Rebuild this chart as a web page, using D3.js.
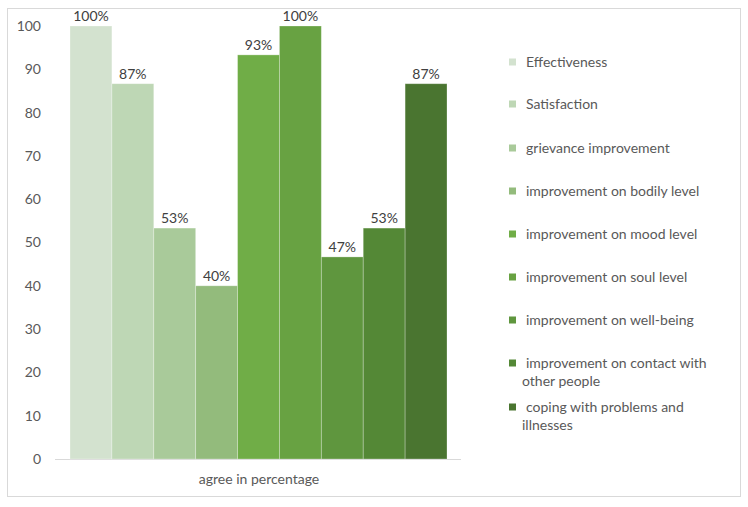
<!DOCTYPE html>
<html><head><meta charset="utf-8">
<script src="https://cdn.jsdelivr.net/npm/d3@7"></script>
<style>body{margin:0;background:#fff}svg{display:block}text{font-family:Lato,"Open Sans",sans-serif}</style>
</head><body><svg id="c" width="748" height="507"></svg>
<script>
const categories = ["Effectiveness","Satisfaction","grievance improvement","improvement on bodily level","improvement on mood level","improvement on soul level","improvement on well-being","improvement on contact with other people","coping with problems and illnesses"];
const values = [100, 86.67, 53.33, 40, 93.33, 100, 46.67, 53.33, 86.67];
const labels = ["100%","87%","53%","40%","93%","100%","47%","53%","87%"];
const colors = ["#d3e2cf","#bed7b5","#a9ca9a","#93bb7c","#70ad47","#68a242","#5f963e","#548836","#4a7530"];
const yTicks = [0,10,20,30,40,50,60,70,80,90,100];
const groupLabel = "agree in percentage";
const legendLines = [["Effectiveness"],["Satisfaction"],["grievance improvement"],["improvement on bodily level"],["improvement on mood level"],["improvement on soul level"],["improvement on well-being"],["improvement on contact with","other people"],["coping with problems and","illnesses"]];

const svg = d3.select("#c");
svg.append("rect").attr("x",7.5).attr("y",8.5).attr("width",733).attr("height",488).attr("fill","#fff").attr("stroke","#d9d9d9");

const y = d3.scaleLinear().domain([0,100]).range([459,26]);
const x = d3.scaleBand().domain(d3.range(categories.length)).range([70,447]).padding(0);

svg.append("line").attr("x1",55).attr("x2",461).attr("y1",459.5).attr("y2",459.5).attr("stroke","#d9d9d9");

const yAxis = d3.axisLeft(y).tickValues(yTicks).tickSize(0).tickPadding(0);
const ga = svg.append("g").attr("transform","translate(41,0)").call(yAxis);
ga.select(".domain").remove();
ga.selectAll("text").attr("font-size",14).attr("fill","#595959").attr("font-family","Lato,'Open Sans',sans-serif");

svg.selectAll("rect.bar").data(values).enter().append("rect").attr("class","bar")
  .attr("x",(d,i)=>x(i)).attr("width",x.bandwidth())
  .attr("y",d=>y(d)).attr("height",d=>y(0)-y(d))
  .attr("fill",(d,i)=>colors[i]).attr("stroke","#fff").attr("stroke-opacity",0.35).attr("stroke-width",0.8);

svg.selectAll("text.lbl").data(values).enter().append("text").attr("class","lbl")
  .attr("x",(d,i)=>x(i)+x.bandwidth()/2).attr("y",d=>y(d)-5)
  .attr("text-anchor","middle").attr("font-size",14).attr("fill","#404040")
  .text((d,i)=>labels[i]);

svg.append("text").attr("x",259).attr("y",484).attr("text-anchor","middle").attr("font-size",14).attr("fill","#595959").text(groupLabel);

const legY = [62,104,148,191,234,277,320,363,407];
const lg = svg.append("g");
legendLines.forEach((lines,i)=>{
  lg.append("rect").attr("x",509).attr("y",legY[i]-3.5).attr("width",7).attr("height",7).attr("fill",colors[i]);
  const t = lg.append("text").attr("font-size",14).attr("fill","#595959");
  lines.forEach((ln,j)=>{
    t.append("tspan").attr("x", j===0?526:522).attr("y",legY[i]+5+j*18).text(ln);
  });
});
</script></body></html>
